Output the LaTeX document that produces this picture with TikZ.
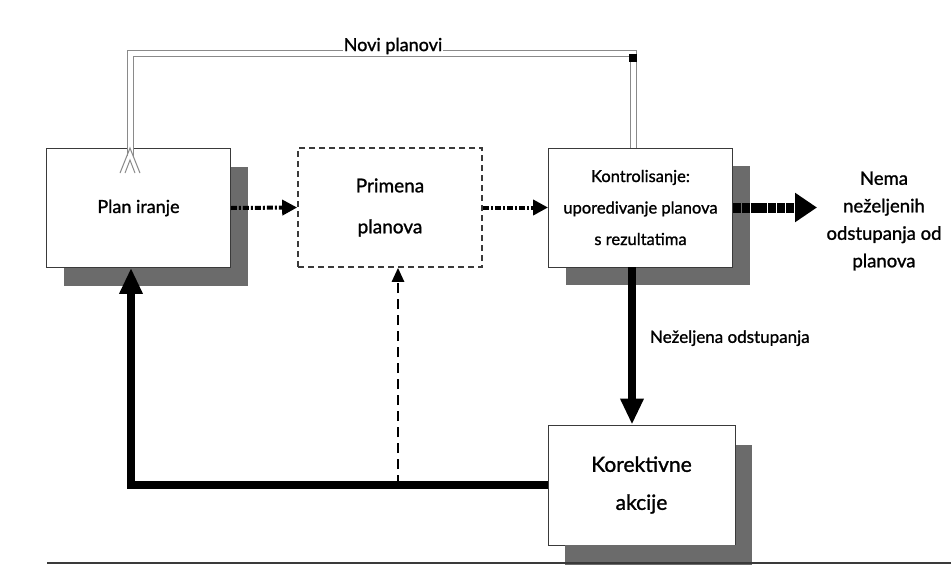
\documentclass[tikz,border=0pt]{standalone}
\usepackage{fontspec}
\setmainfont{Lato}[FakeBold=1.2]
\usetikzlibrary{arrows.meta,shadows,calc}
\definecolor{shadowgray}{HTML}{6B6B6B}
\definecolor{linegray}{HTML}{3A3A3A}
\definecolor{loopgray}{HTML}{8A8A8A}
\begin{document}
\begin{tikzpicture}[x=1pt,y=-1pt,
  box/.style={draw=linegray, line width=0.9pt, fill=white, rectangle,
    minimum width=184pt, minimum height=119pt, inner sep=0pt, align=center},
  shadowbox/.style={box, drop shadow={shadow xshift=17pt, shadow yshift=-18pt,
    fill=shadowgray, opacity=1}},
  dashbox/.style={box, dashed, dash pattern=on 6pt off 4pt, line width=1.6pt},
  flowarrow/.style={line width=4pt, dash pattern=on 6pt off 2pt on 2pt off 2pt,
    -{Triangle[length=15pt,width=15pt]}},
  exitarrow/.style={line width=10pt, dash pattern=on 8pt off 0.8pt,
    -{Triangle[length=22pt,width=28pt]}},
  thickarrow/.style={line width=8pt, -{Triangle[length=26pt,width=22pt]}},
  lightdash/.style={line width=2.6pt, dash pattern=on 10pt off 6pt,
    -{Triangle[length=14pt,width=12pt]}},
  feedback/.style={draw=loopgray, double=white, double distance=5pt, line width=1pt},
  lbl/.style={inner sep=1pt}
]
\useasboundingbox (0,0) rectangle (951,584);

% process boxes
\node[shadowbox, font=\fontsize{18}{20}\selectfont] (plan) at (138.5,208) {Plan iranje};
\node[dashbox, font=\fontsize{19}{41}\selectfont] (prim) at (390,207.5) {Primena\\planova};
\node[shadowbox, font=\fontsize{16.5}{31.5}\selectfont] (kontrol) at (640.5,207.5)
  {Kontrolisanje:\\uporedivanje planova\\s rezultatima};
\node[box, minimum width=187pt, minimum height=120pt,
  drop shadow={shadow xshift=17pt, shadow yshift=-20pt, fill=shadowgray, opacity=1},
  font=\fontsize{21}{38}\selectfont] (korekt) at (641.5,485) {Korektivne\\akcije};

% outcome text
\node[lbl, align=center, font=\fontsize{18.5}{27.5}\selectfont] (nema) at (884,221)
  {Nema\\neželjenih\\odstupanja od\\planova};

% bottom rule
\draw[linegray, line width=1.6pt] (47,563) -- (951,563);
\fill[shadowgray] (565,545) rectangle (752,562);

% forward flow
\draw[flowarrow] (plan.east) -- (prim.west);
\draw[flowarrow] (prim.east) -- (kontrol.west);
\draw[exitarrow] (kontrol.east) -- (817,207.5) coordinate (exitend);

% deviations to corrective actions
\draw[thickarrow] ([xshift=-8.5pt]kontrol.south) -- ([xshift=-9.5pt]korekt.north)
  node[pos=0.45, right=13pt, lbl, font=\fontsize{17}{18}\selectfont] (nezel) {Neželjena odstupanja};

% corrective loop back to planning
\draw[thickarrow] (korekt.west) -| ([xshift=-7.5pt]plan.south);
\coordinate (junc) at ([xshift=8pt]prim.south |- korekt.west);
\draw[lightdash] (junc) -- ([xshift=8pt]prim.south);

% new plans loop, ending in an open double chevron
\coordinate (tip) at ([xshift=-8.5pt]plan.north);
\draw[feedback] ([xshift=-7.5pt]kontrol.north) -- ++(0,-94) coordinate (tr)
  -| ([yshift=-8pt]tip);
\draw[loopgray, line width=1pt] ([xshift=-10pt,yshift=-25pt]tip) -- (tip) -- ([xshift=10pt,yshift=-25pt]tip);
\draw[loopgray, line width=1pt] ([xshift=-5pt,yshift=-25pt]tip) -- ([yshift=-12pt]tip) -- ([xshift=5pt,yshift=-25pt]tip);
\fill[black] ([xshift=-4pt]tr) rectangle ++(8,8);
\node[lbl, fill=white, font=\fontsize{18}{20}\selectfont] (novi) at (393,46) {Novi planovi};
\end{tikzpicture}
\end{document}
